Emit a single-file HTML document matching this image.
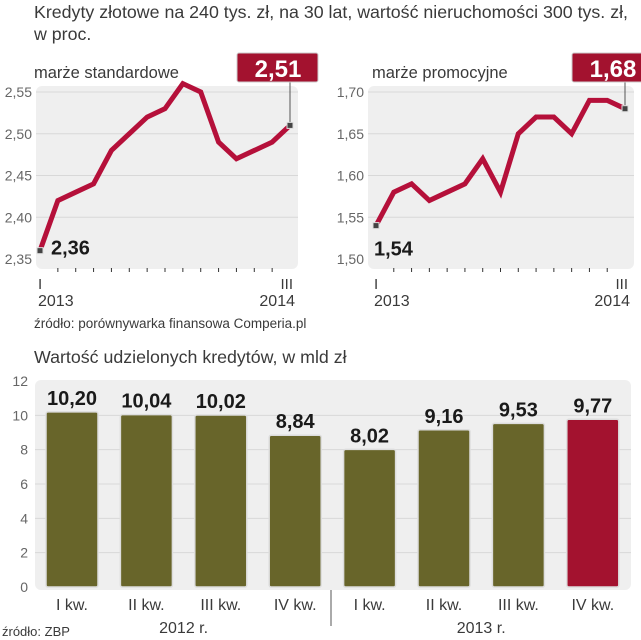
<!DOCTYPE html>
<html><head><meta charset="utf-8"><style>
body{margin:0;background:#fff}
svg{display:block;font-family:"Liberation Sans",sans-serif}
.t{fill:#3a3a3a}
.ax{fill:#666;font-size:14px}
.bold{font-family:"Liberation Sans Narrow","Liberation Sans",sans-serif;font-weight:bold;fill:#1a1a1a}
</style></head><body>
<svg id="s" width="641" height="640" viewBox="0 0 641 640">
<text x="34" y="18" class="t" font-size="17.8">Kredyty złotowe na 240 tys. zł, na 30 lat, wartość nieruchomości 300 tys. zł,</text>
<text x="34" y="40" class="t" font-size="17.8">w proc.</text>
<text x="34" y="78" class="t" font-size="16.5">marże standardowe</text>
<text x="372" y="78" class="t" font-size="16.5">marże promocyjne</text>
<text x="34" y="328" class="t" font-size="13.5">źródło: porównywarka finansowa Comperia.pl</text>
<text x="34" y="363" class="t" font-size="17.8">Wartość udzielonych kredytów, w mld zł</text>
<text x="2" y="636" class="t" font-size="13">źródło: ZBP</text>
<g id="lines"></g>
<g id="bars"></g>
</svg>
<script>
const stdValues=[2.36,2.42,2.43,2.44,2.48,2.50,2.52,2.53,2.56,2.55,2.49,2.47,2.48,2.49,2.51];
const stdTicks=[2.35,2.40,2.45,2.50,2.55];
const promoValues=[1.54,1.58,1.59,1.57,1.58,1.59,1.62,1.58,1.65,1.67,1.67,1.65,1.69,1.69,1.68];
const promoTicks=[1.50,1.55,1.60,1.65,1.70];
const barCategories=["I kw.","II kw.","III kw.","IV kw.","I kw.","II kw.","III kw.","IV kw."];
const barValues=[10.20,10.04,10.02,8.84,8.02,9.16,9.53,9.77];
const barTicks=[0,2,4,6,8,10,12];
const yearLabels=["2012 r.","2013 r."];
const NS="http://www.w3.org/2000/svg";
function mk(tag,attrs,parent,text){const e=document.createElementNS(NS,tag);for(const k in attrs)e.setAttribute(k,attrs[k]);if(text!==undefined)e.textContent=text;parent.appendChild(e);return e;}
const fmt=v=>v.toFixed(2).replace('.',',');
const lg=document.getElementById('lines');
function lineChart(vals,ticks,x0,x1,bg0,bg1,name,startLabelBelow){
  const ymin=ticks[0],ymax=ticks[ticks.length-1];
  const yTop=92,yBot=259;
  const y=v=>yBot-(v-ymin)/(ymax-ymin)*(yBot-yTop);
  const x=i=>x0+i*(x1-x0)/(vals.length-1);
  const bg=mk('rect',{x:bg0,y:86,width:bg1-bg0,height:183,rx:6,fill:'#efefef'},lg);
  
  
  ticks.forEach(t=>{
    if(t!==ymin){const gl=mk('line',{x1:bg0,x2:bg1,y1:y(t),y2:y(t),stroke:'#d8d8d8','stroke-width':1},lg);
    
    }
    const tl=mk('text',{x:bg0-4,y:y(t)+5,'text-anchor':'end',class:'ax'},lg,fmt(t));
    
    
  });
  vals.forEach((v,i)=>{if(i>0&&i<vals.length-1){const tk=mk('line',{x1:x(i),x2:x(i),y1:268,y2:272,stroke:'#333','stroke-width':1},lg);
    
    }});
  const pl=mk('polyline',{points:vals.map((v,i)=>x(i)+','+y(v)).join(' '),fill:'none',stroke:'#b5103a','stroke-width':5,'stroke-linejoin':'miter'},lg);
  
  
  const n=vals.length-1;
  const c=mk('line',{x1:x(n),x2:x(n),y1:80,y2:y(vals[n]),stroke:'#555','stroke-width':1},lg);
  
  
  [0,n].forEach(i=>{const m=mk('rect',{x:x(i)-3,y:y(vals[i])-3,width:6,height:6,fill:'#444',stroke:'#ddd','stroke-width':1},lg);
    
    });
  const bx=mk('rect',{x:x(n)-53,y:53,width:81,height:29,rx:2,fill:'#a3122f',stroke:'#ccc','stroke-width':1},lg);
  
  
  const bt=mk('text',{x:x(n)-12,y:77,'text-anchor':'middle',class:'bold','font-size':24,style:'fill:#fff'},lg,fmt(vals[n]));
  
  
  const sx=startLabelBelow?x(0)-2:x(0)+11, sy=startLabelBelow?y(vals[0])+30:y(vals[0])+4;
  const st=mk('text',{x:sx,y:sy,class:'bold','font-size':20},lg,fmt(vals[0]));
  
  
  [["I",x(0),'start',x(0)-2],["III",x(n),'end',x(n)+3]].forEach(a=>{
    const t=mk('text',{x:a[3],y:289,'text-anchor':a[2],class:'t','font-size':15},lg,a[0]);
    
    });
  [["2013",x(0)-2,'start'],["2014",x(n)+5,'end']].forEach(a=>{
    const t=mk('text',{x:a[1],y:306,'text-anchor':a[2],class:'t','font-size':16},lg,a[0]);
    
    });
}
lineChart(stdValues,stdTicks,40,290,36,298,'standard-margin',false);
lineChart(promoValues,promoTicks,376,625,368,634,'promo-margin',true);

const bg=document.getElementById('bars');
const bTop=381,bBot=587,bMax=12;
const by=v=>bBot-v/bMax*(bBot-bTop);
const bx=i=>72+i*74.4;
const pb=mk('rect',{x:35,y:380,width:596,height:210,rx:6,fill:'#efefef'},bg);


barTicks.forEach(t=>{
  if(t>0&&t<bMax){const gl=mk('line',{x1:35,x2:631,y1:by(t),y2:by(t),stroke:'#d8d8d8'},bg);
  
  }
  const tl=mk('text',{x:28,y:by(t)+5,'text-anchor':'end',class:'ax'},bg,String(t));
  
  
});
barValues.forEach((v,i)=>{
  const r=mk('rect',{x:bx(i)-26,y:by(v),width:52,height:bBot-by(v),rx:2,fill:i===barValues.length-1?'#a3122f':'#68652a',stroke:'#ddd','stroke-width':1.5},bg);
  
  
  const vl=mk('text',{x:bx(i),y:by(v)-7,'text-anchor':'middle',class:'bold','font-size':20},bg,fmt(v));
  
  
  const cl=mk('text',{x:bx(i),y:610,'text-anchor':'middle',class:'t','font-size':16},bg,barCategories[i]);
  
  
});
yearLabels.forEach((yl,j)=>{
  const t=mk('text',{x:(bx(j*4)+bx(j*4+3))/2,y:633,'text-anchor':'middle',class:'t','font-size':16},bg,yl);
  
  
});
const sep=mk('line',{x1:331,x2:331,y1:590,y2:626,stroke:'#555'},bg);


</script>
</body></html>
